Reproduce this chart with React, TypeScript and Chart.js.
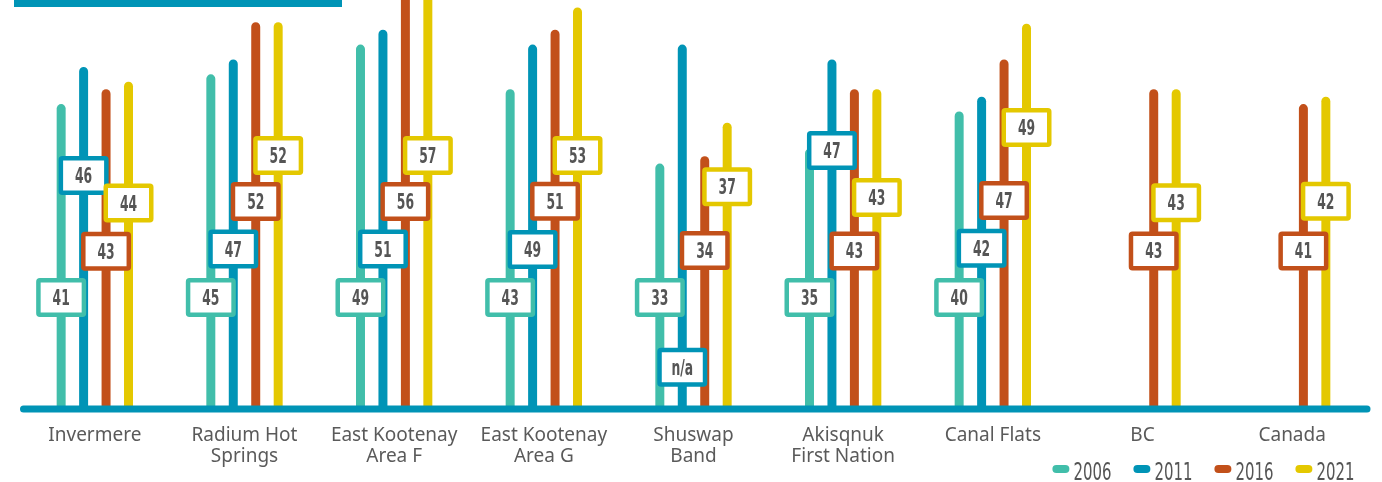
import React, { useEffect, useRef } from 'react';
import { Chart, registerables } from 'chart.js';

Chart.register(...registerables);

// ---------- data ----------
const categories: (string | string[])[] = [
  'Invermere',
  ['Radium Hot', 'Springs'],
  ['East Kootenay', 'Area F'],
  ['East Kootenay', 'Area G'],
  ['Shuswap', 'Band'],
  ['Akisqnuk', 'First Nation'],
  'Canal Flats',
  'BC',
  'Canada',
];
const years = ['2006', '2011', '2016', '2021'];

// bar heights as plotted in the picture
const values2006 = [41, 45, 49, 43, 33, 35, 40, null, null];
const values2011 = [46, 47, 51, 49, 49, 47, 42, null, null];
const values2016 = [43, 52, 56, 51, 34, 43, 47, 43, 41];
const values2021 = [44, 52, 57, 54, 38.5, 43, 51.8, 43, 42];

// text written in the value boxes
const boxText2006 = ['41', '45', '49', '43', '33', '35', '40', null, null];
const boxText2011 = ['46', '47', '51', '49', 'n/a', '47', '42', null, null];
const boxText2016 = ['43', '52', '56', '51', '34', '43', '47', '43', '41'];
const boxText2021 = ['44', '52', '57', '53', '37', '43', '49', '43', '42'];

// where each value box sits, in y-axis units
const boxLevel2006 = [15, 15, 15, 15, 15, 15, 15, null, null];
const boxLevel2011 = [31.4, 21.5, 21.5, 21.45, 5.6, 34.75, 21.6, null, null];
const boxLevel2016 = [21.2, 27.9, 27.9, 27.95, 21.3, 21.25, 28.05, 21.25, 21.25];
const boxLevel2021 = [27.7, 34.1, 34.1, 34.1, 29.9, 28.45, 37.85, 27.75, 27.95];

// ---------- style ----------
const seriesColors = ['#41beaa', '#0094b6', '#c2501a', '#e4c800'];
const AXIS_COLOR = '#0094b6';
const TEXT_COLOR = '#555555';
const CONDENSED = '"Liberation Sans Narrow", "DejaVu Sans Condensed", "Liberation Sans", sans-serif';

const seriesValues = [values2006, values2011, values2016, values2021];
const boxTexts = [boxText2006, boxText2011, boxText2016, boxText2021];
const boxLevels = [boxLevel2006, boxLevel2011, boxLevel2016, boxLevel2021];

function condensedScale(ctx: CanvasRenderingContext2D, digitWidth: number) {
  const w = ctx.measureText('0000').width / 4;
  return w > 0 ? digitWidth / w : 1;
}

const overlayPlugin = {
  id: 'overlay',
  afterDatasetsDraw(chart: any) {
    const { ctx, chartArea, scales } = chart;
    const y = scales.y;
    const y0 = y.getPixelForValue(0);
    ctx.save();
    // thick baseline
    ctx.strokeStyle = AXIS_COLOR;
    ctx.lineWidth = 7;
    ctx.lineCap = 'round';
    ctx.beginPath();
    ctx.moveTo(chartArea.left + 3.5, y0);
    ctx.lineTo(chartArea.right, y0);
    ctx.stroke();

    // value boxes
    const bw = 50;
    const bh = 39;
    const lw = 4.5;
    ctx.font = `bold 21px ${CONDENSED}`;
    const sx = condensedScale(ctx, 8.6);
    chart.data.datasets.forEach((ds: any, di: number) => {
      const meta = chart.getDatasetMeta(di);
      meta.data.forEach((bar: any, i: number) => {
        const text = boxTexts[di][i];
        const level = boxLevels[di][i];
        if (text == null || level == null) return;
        const cx = bar.x;
        const cy = y.getPixelForValue(level);
        ctx.beginPath();
        ctx.roundRect(cx - bw / 2 + lw / 2, cy - bh / 2 + lw / 2, bw - lw, bh - lw, 1.5);
        ctx.fillStyle = '#ffffff';
        ctx.fill();
        ctx.lineWidth = lw;
        ctx.strokeStyle = ds.backgroundColor;
        ctx.stroke();
        ctx.fillStyle = TEXT_COLOR;
        ctx.textAlign = 'center';
        ctx.textBaseline = 'alphabetic';
        ctx.save();
        ctx.translate(cx, cy + 7.5);
        ctx.scale(sx, 1);
        ctx.fillText(text, 0, 0);
        ctx.restore();
      });
    });
    ctx.restore();
  },
  afterDraw(chart: any) {
    const { ctx, chartArea } = chart;
    ctx.save();
    ctx.font = `24px ${CONDENSED}`;
    const sx = condensedScale(ctx, 9.5);
    const pillW = 17;
    const pillH = 8;
    const gap = 4;
    const itemGap = 22;
    const items = chart.data.datasets.map((ds: any) => ({
      text: ds.label as string,
      color: ds.backgroundColor as string,
      w: ctx.measureText(ds.label).width * sx,
    }));
    const total =
      items.reduce((a: number, it: any) => a + pillW + gap + it.w, 0) + itemGap * (items.length - 1);
    let x = chartArea.right - 12.6 - total;
    const pillCy = chartArea.bottom + 60;
    const baseY = chartArea.bottom + 71;
    items.forEach((it: any) => {
      ctx.beginPath();
      ctx.roundRect(x, pillCy - pillH / 2, pillW, pillH, pillH / 2);
      ctx.fillStyle = it.color;
      ctx.fill();
      x += pillW + gap;
      ctx.fillStyle = TEXT_COLOR;
      ctx.textAlign = 'left';
      ctx.textBaseline = 'alphabetic';
      ctx.save();
      ctx.translate(x, baseY);
      ctx.scale(sx, 1);
      ctx.fillText(it.text, 0, 0);
      ctx.restore();
      x += it.w + itemGap;
    });
    ctx.restore();
  },
};

export default function App() {
  const canvasRef = useRef<HTMLCanvasElement | null>(null);

  useEffect(() => {
    if (!canvasRef.current) return;
    const chart = new Chart(canvasRef.current, {
      type: 'bar',
      data: {
        labels: categories as any,
        datasets: years.map((yr, i) => ({
          label: yr,
          data: seriesValues[i] as any,
          backgroundColor: seriesColors[i],
          borderWidth: 0,
          borderRadius: 5,
          borderSkipped: 'start',
          categoryPercentage: 0.6,
          barPercentage: 0.4,
        })),
      },
      options: {
        animation: false,
        responsive: true,
        maintainAspectRatio: false,
        layout: { padding: { left: 20, right: 15, top: 0, bottom: 0 } },
        plugins: {
          legend: { display: false },
          tooltip: { enabled: false },
        },
        scales: {
          x: {
            grid: { display: false, drawTicks: false },
            border: { display: false },
            ticks: {
              color: '#5a5a5a',
              font: { family: '"Noto Sans", sans-serif', size: 19, lineHeight: 1.1 },
              padding: 16,
              maxRotation: 0,
              autoSkip: false,
            },
            afterFit: (s: any) => {
              s.height = 73;
            },
          },
          y: { display: false, min: 0, max: 55 },
        },
      },
      plugins: [overlayPlugin],
    });
    return () => chart.destroy();
  }, []);

  return (
    <div style={{ position: 'fixed', left: 0, top: 0, width: 1382, height: 482, background: '#fff' }}>
      <div
        style={{ position: 'absolute', left: 14, top: 0, width: 328, height: 7, background: AXIS_COLOR }}
      />
      <canvas ref={canvasRef} />
    </div>
  );
}
